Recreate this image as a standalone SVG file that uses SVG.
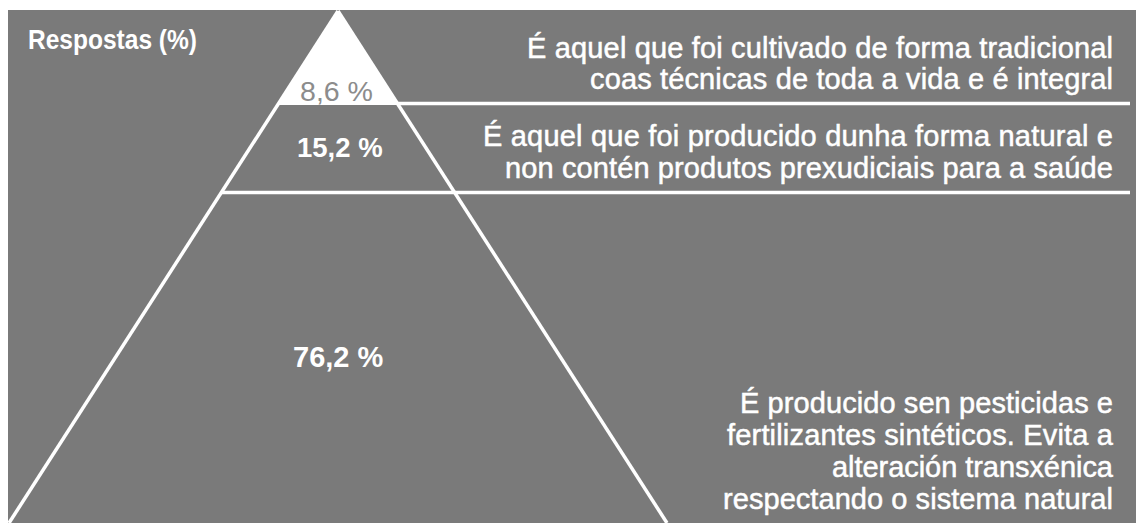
<svg xmlns="http://www.w3.org/2000/svg" width="1136" height="527" viewBox="0 0 1136 527">
  <style>
    .t { font-family: "Liberation Sans", Arial, sans-serif; fill: #ffffff; }
    .desc { font-size: 29px; text-anchor: end; stroke: #ffffff; stroke-width: 0.5; }
    .pct { font-weight: bold; }
    .ln { stroke: #ffffff; stroke-width: 3.5; fill: none; }
  </style>
  <rect x="0" y="0" width="1136" height="527" fill="#ffffff"/>
  <rect id="background" x="8" y="10" width="1128" height="513" fill="#7a7a7a"/>
  <g id="connectors">
    <polygon points="338,11 278,105 398,105" fill="#ffffff"/>
    <line class="ln" x1="338" y1="11" x2="9" y2="523"/>
    <line class="ln" x1="338" y1="11" x2="667" y2="523"/>
    <line class="ln" x1="398" y1="103.5" x2="1130" y2="103.5"/>
    <line class="ln" x1="222" y1="192.5" x2="1130" y2="192.5"/>
  </g>
  <g id="title">
    <text class="t" transform="translate(28,49) scale(1,1.15)" x="0" y="0" textLength="169" lengthAdjust="spacingAndGlyphs" style="font-size:24.5px;font-weight:bold">Respostas (%)</text>
  </g>
  <g id="level-top">
    <text class="t" transform="translate(300,101) scale(1,1.1)" x="0" y="0" textLength="73" lengthAdjust="spacingAndGlyphs" style="font-size:25px;fill:#8c8c8c">8,6 %</text>
    <text class="t desc" x="1113" y="58" textLength="586" lengthAdjust="spacing">É aquel que foi cultivado de forma tradicional</text>
    <text class="t desc" x="1113" y="89" textLength="523" lengthAdjust="spacing">coas técnicas de toda a vida e é integral</text>
  </g>
  <g id="level-middle">
    <text class="t pct" x="297" y="157" style="font-size:27.5px">15,2 %</text>
    <text class="t desc" x="1113" y="146" textLength="630" lengthAdjust="spacing">É aquel que foi producido dunha forma natural e</text>
    <text class="t desc" x="1113" y="178" textLength="608" lengthAdjust="spacing">non contén produtos prexudiciais para a saúde</text>
  </g>
  <g id="level-bottom">
    <text class="t pct" x="293" y="367" style="font-size:29px">76,2 %</text>
    <text class="t desc" x="1113" y="413" textLength="373" lengthAdjust="spacing">É producido sen pesticidas e</text>
    <text class="t desc" x="1113" y="445" textLength="386" lengthAdjust="spacing">fertilizantes sintéticos. Evita a</text>
    <text class="t desc" x="1113" y="477" textLength="281" lengthAdjust="spacing">alteración transxénica</text>
    <text class="t desc" x="1113" y="509" textLength="390" lengthAdjust="spacing">respectando o sistema natural</text>
  </g>
</svg>
